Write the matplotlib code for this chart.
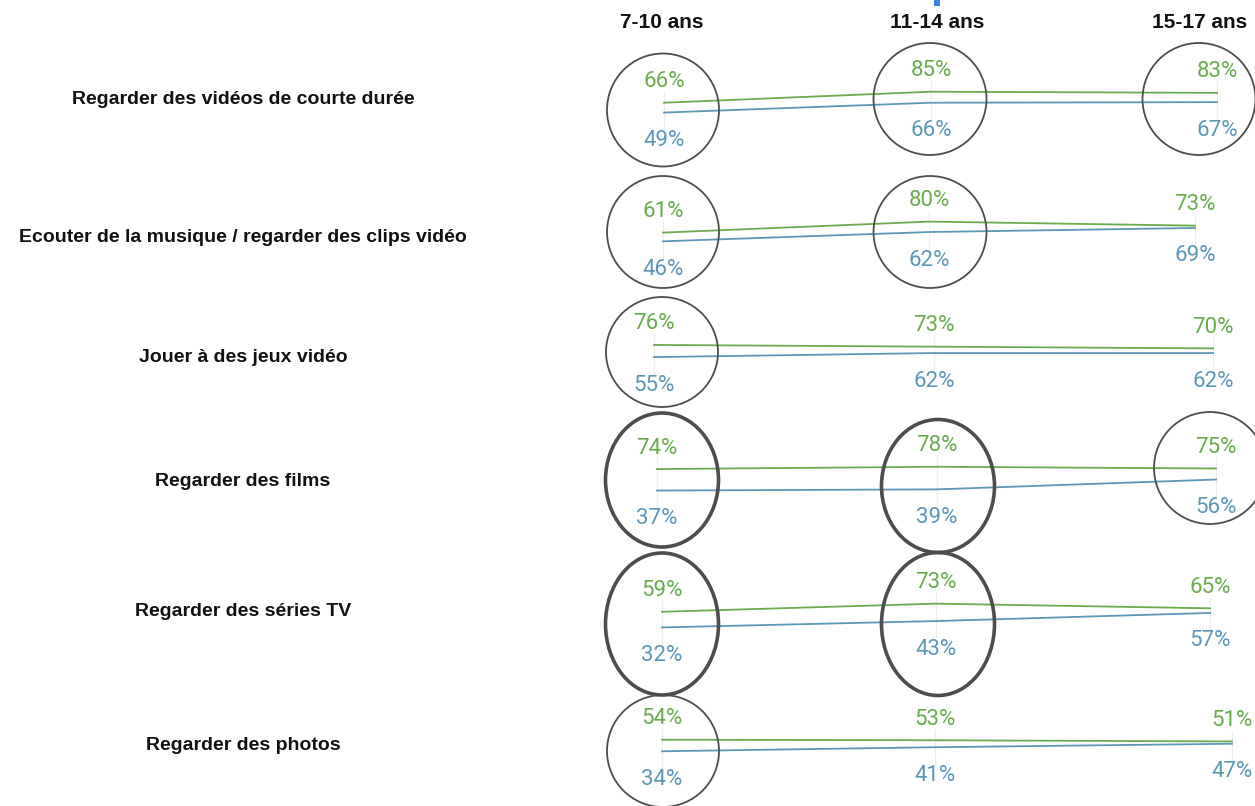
import matplotlib.pyplot as plt
from matplotlib.patches import Ellipse, Rectangle

# data
activities = [
    "Regarder des vidéos de courte durée",
    "Ecouter de la musique / regarder des clips vidéo",
    "Jouer à des jeux vidéo",
    "Regarder des films",
    "Regarder des séries TV",
    "Regarder des photos",
]
age_groups = ["7-10 ans", "11-14 ans", "15-17 ans"]
green_vals = [
    [66, 85, 83],
    [61, 80, 73],
    [76, 73, 70],
    [74, 78, 75],
    [59, 73, 65],
    [54, 53, 51],
]
blue_vals = [
    [49, 66, 67],
    [46, 62, 69],
    [55, 62, 62],
    [37, 39, 56],
    [32, 43, 57],
    [34, 41, 47],
]

# layout (pixels, from top-left of the 1255x806 canvas)
W, H = 1255, 806
row_zero = [141, 268, 389, 512, 646, 771]   # pixel row of value 0 for each row
px_per_pct = 0.58
row_x = [
    [664, 931, 1217],
    [663, 929, 1195],
    [654, 934, 1213],
    [657, 937, 1216],
    [662, 936, 1210],
    [662, 935, 1232],
]
label_y = [100, 237, 357, 482, 612, 746]
header_x = [662, 937, 1200]
# highlight ellipses: cx, cy, w, h, linewidth
rings = [
    (663, 110, 112, 113, 1.3), (930, 99, 113, 112, 1.3), (1199, 99, 113, 112, 1.3),
    (663, 232, 112, 112, 1.3), (930, 232, 113, 112, 1.3),
    (662, 352, 112, 110, 1.3),
    (662, 480, 113, 134, 2.6), (938, 486, 113, 133, 2.6), (1210, 468, 112, 112, 1.3),
    (662, 624, 113, 142, 2.6), (938, 624, 113, 143, 2.6),
    (663, 751, 112, 112, 1.3),
]

GREEN = "#6aab4f"
BLUE = "#5d97b7"
RING = "#4d4d4d"

fig = plt.figure(figsize=(W / 100, H / 100), dpi=100)

for i in range(len(activities)):
    z = row_zero[i]
    top = z - 98
    bottom = z + 28
    ax = fig.add_axes([0, (H - bottom) / H, 1, (bottom - top) / H])
    ax.set_xlim(0, W)
    ax.set_ylim(-28 / px_per_pct, 98 / px_per_pct)
    ax.axis("off")
    xs = row_x[i]
    g = green_vals[i]
    b = blue_vals[i]
    # faint guide lines
    for x, gv, bv in zip(xs, g, b):
        ax.vlines(x, bv - 30, gv + 20, color="#ececec", lw=0.8, zorder=1)
    ax.plot(xs, g, color=GREEN, lw=1.3, zorder=3)
    ax.plot(xs, b, color=BLUE, lw=1.3, zorder=3)
    for x, gv, bv in zip(xs, g, b):
        ax.annotate(f"{gv}%", (x, gv), xytext=(0, 21), textcoords="offset pixels",
                    ha="center", va="center", color=GREEN, fontsize=16,
                    family="Roboto")
        ax.annotate(f"{bv}%", (x, bv), xytext=(0, -28), textcoords="offset pixels",
                    ha="center", va="center", color=BLUE, fontsize=16,
                    family="Roboto")

# overlay in pixel coordinates for titles and rings
ov = fig.add_axes([0, 0, 1, 1])
ov.set_xlim(0, W)
ov.set_ylim(H, 0)
ov.axis("off")
ov.patch.set_alpha(0)

for name, y in zip(activities, label_y):
    ov.text(243, y, name, ha="center", va="center", fontsize=14,
            fontweight="bold", family="Liberation Sans", color="#111111")

for name, x in zip(age_groups, header_x):
    ov.text(x, 23, name, ha="center", va="center", fontsize=15,
            fontweight="bold", family="Liberation Sans", color="#111111")

for cx, cy, w, h, lw in rings:
    ov.add_patch(Ellipse((cx, cy), w, h, fill=False, ec=RING, lw=lw, zorder=5))

# cropped blue mark at the top edge
ov.add_patch(Rectangle((934, 0), 6, 6, color="#3b82e6", lw=0))

fig.savefig("out.png", dpi=100)
